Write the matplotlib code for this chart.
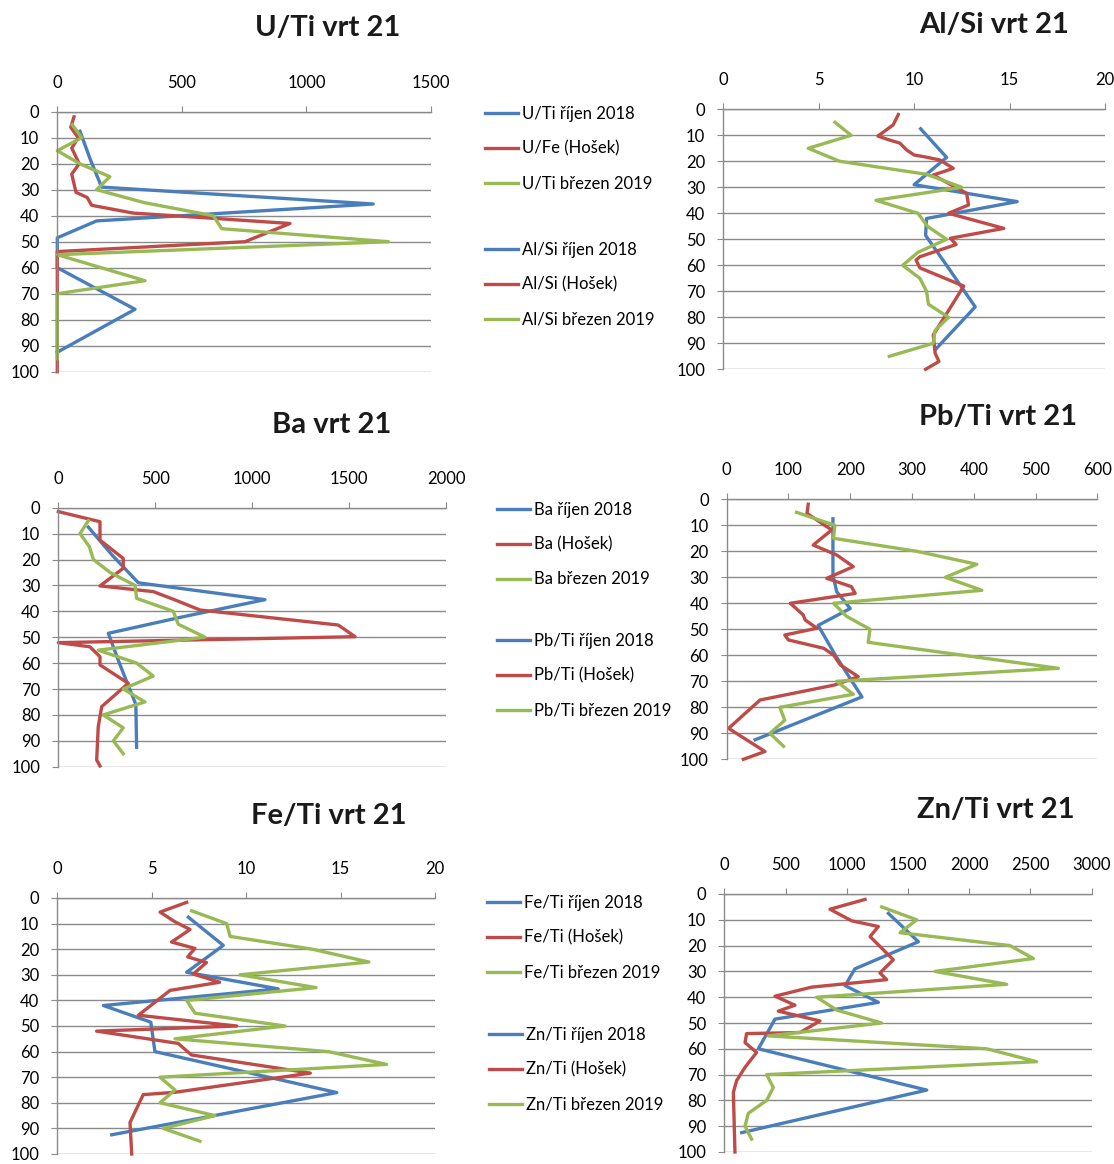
import numpy as np
import matplotlib
matplotlib.use("Agg")
import matplotlib.pyplot as plt

plt.rcParams['font.family'] = ['Lato', 'DejaVu Sans']

# depths (cm) of the three sample series
depth_oct = [7.5, 18.5, 29, 35.5, 42, 48.5, 60, 76, 92.5]
depth_mar = [5, 10, 15, 20, 25, 30, 35, 40, 45, 50, 55, 60, 65, 70, 75, 80, 85, 90, 95]

# U/Ti
u_oct = [91, 133, 178, 1268, 158, 0, 0, 312, 0]
u_hos_depth = [2, 6, 10, 14, 20, 24, 31, 33, 36, 39, 41, 43, 48.7, 50, 53.8, 100]
u_hos = [67, 54, 84, 58, 88, 58, 75, 120, 138, 305, 626, 934, 787, 754, 0, 0]
u_mar = [60, 98, 0, 90, 211, 158, 350, 626, 660, 1329, 0, 176, 352, 0, 0, 0, 0, 0, 0]

# Al/Si
al_oct = [10.34, 11.7, 10.0, 15.4, 10.65, 10.6, 11.7, 13.2, 11.1]
al_hos_depth = [2, 6, 10.3, 11.8, 13, 15.6, 17.6, 18.2, 19.5, 22.7, 25.3, 32.3, 36.8, 40,
                45.8, 49.6, 52, 56.7, 58, 61, 68, 86.8, 93.8, 97, 100]
al_hos = [9.17, 8.9, 8.1, 8.7, 9.25, 9.6, 10.0, 10.5, 11.35, 12.05, 11.0, 12.75, 12.85, 11.8,
          14.7, 11.9, 12.2, 10.3, 10.1, 10.3, 12.6, 11.0, 11.1, 11.3, 10.6]
al_mar = [5.85, 6.7, 4.45, 6.1, 10.65, 12.5, 8.0, 10.2, 10.7, 11.7, 10.2, 9.4, 10.3, 10.65,
          10.75, 11.8, 11.1, 11.0, 8.7]

# Ba
ba_oct = [155, 280, 413, 1066, 650, 258, 315, 400, 404]
ba_hos_depth = [1.5, 5.4, 12.5, 19.6, 23.4, 30.2, 32.4, 35.6, 39.5, 45.3, 49.8, 52.1, 53.7,
                57.5, 60.7, 67.8, 76.8, 84.6, 97.4, 99.7]
ba_hos = [0, 215, 215, 335, 335, 215, 490, 602, 731, 1444, 1531, 0, 163, 215, 215, 361, 224,
          206, 198, 215]
ba_mar = [155, 112, 160, 181, 267, 396, 404, 593, 619, 757, 206, 404, 490, 335, 447, 232, 335,
          284, 335]

# Pb/Ti
pb_oct = [172, 172, 172, 178, 200, 148, 176, 219, 46]
pb_hos_depth = [1.9, 5.4, 11.8, 17.6, 21.4, 25.9, 30.4, 33.6, 36.2, 40, 44.5, 46.4, 49.6, 52.2,
                54.1, 57.3, 59.9, 63.7, 68.2, 71.4, 77.2, 88.1, 97, 100]
pb_hos = [132, 130, 170, 140, 178, 205, 162, 202, 208, 103, 124, 127, 146, 94, 100, 157, 173,
          184, 213, 175, 54, 3, 62, 27]
pb_mar = [113, 175, 173, 308, 405, 354, 413, 173, 194, 232, 229, 383, 537, 178, 205, 86, 94,
          70, 92]

# Fe/Ti
fe_oct = [6.94, 8.79, 6.85, 11.7, 2.44, 4.95, 5.17, 14.8, 2.88]
fe_hos_depth = [1.7, 5.5, 9.3, 12.3, 17.2, 19.7, 23, 25.2, 29.7, 32.9, 36.1, 45.8, 50, 52, 56.8,
                61.3, 68.4, 75.9, 76.8, 87.7, 100]
fe_hos = [6.85, 5.44, 6.23, 7.03, 6.05, 7.29, 6.9, 7.9, 7.2, 8.6, 5.97, 4.29, 9.5, 2.08, 6.4,
          7.1, 13.4, 6.23, 4.55, 3.85, 3.94]
fe_mar = [7.11, 8.97, 9.15, 13.5, 16.5, 9.67, 13.7, 6.85, 7.29, 12.06, 6.23, 14.35, 17.44, 5.44,
          6.23, 5.44, 8.35, 5.61, 7.55]

# Zn/Ti
zn_oct = [1340, 1585, 1067, 986, 1258, 414, 278, 1653, 142]
zn_hos_depth = [2.1, 5.9, 10.4, 12.6, 16.5, 19.7, 25.5, 30.6, 33.2, 34.8, 36.1, 39.6, 43.1,
                45.4, 49.2, 53.7, 54.1, 57.6, 61.4, 67.2, 72.3, 76.9, 100]
zn_hos = [1149, 863, 1040, 1258, 1190, 1258, 1380, 1271, 1326, 986, 713, 414, 577, 441, 781,
          618, 182, 169, 264, 169, 101, 74, 87]
zn_mar = [1285, 1571, 1435, 2333, 2524, 1721, 2306, 754, 918, 1285, 359, 2143, 2551, 346, 400,
          346, 196, 169, 223]

titles = ['U/Ti vrt 21', 'Al/Si vrt 21', 'Ba vrt 21', 'Pb/Ti vrt 21', 'Fe/Ti vrt 21', 'Zn/Ti vrt 21']
labels = [
    ['U/Ti říjen 2018', 'U/Fe (Hošek)', 'U/Ti březen 2019'],
    ['Al/Si říjen 2018', 'Al/Si (Hošek)', 'Al/Si březen 2019'],
    ['Ba říjen 2018', 'Ba (Hošek)', 'Ba březen 2019'],
    ['Pb/Ti říjen 2018', 'Pb/Ti (Hošek)', 'Pb/Ti březen 2019'],
    ['Fe/Ti říjen 2018', 'Fe/Ti (Hošek)', 'Fe/Ti březen 2019'],
    ['Zn/Ti říjen 2018', 'Zn/Ti (Hošek)', 'Zn/Ti březen 2019'],
]
xmax = [1500, 20, 2000, 600, 20, 3000]
xstep = [500, 5, 500, 100, 5, 500]

series = [
    (u_oct, u_hos_depth, u_hos, u_mar),
    (al_oct, al_hos_depth, al_hos, al_mar),
    (ba_oct, ba_hos_depth, ba_hos, ba_mar),
    (pb_oct, pb_hos_depth, pb_hos, pb_mar),
    (fe_oct, fe_hos_depth, fe_hos, fe_mar),
    (zn_oct, zn_hos_depth, zn_hos, zn_mar),
]

W, H = 1114, 1164
# plot area in pixels: left, right, top, bottom
boxes = [(57.3, 431, 111.7, 371.7), (723.3, 1105, 109.3, 369.3),
         (58.3, 446, 507.7, 766.7), (726.7, 1097.3, 499.3, 759.3),
         (57.3, 435, 898, 1154), (724.3, 1091.7, 894, 1152)]
title_pos = [(328, 28), (994, 25), (332, 425), (998, 417), (329, 816), (996, 810)]
# legend: x of line start, y of first row centre
leg_pos = [(485, 112), (485, 248), (497, 508), (497, 639), (487, 901), (489, 1033)]

colors = ['#4a7ebb', '#be4b48', '#98b954']
grid_col = '#8a8a8a'

fig = plt.figure(figsize=(W / 100, H / 100), dpi=100)

for i in range(6):
    l, r, t, b = boxes[i]
    ax = fig.add_axes([l / W, 1 - b / H, (r - l) / W, (b - t) / H])
    oct_v, hos_d, hos_v, mar_v = series[i]
    h1, = ax.plot(oct_v, depth_oct, color=colors[0], lw=2.4, label=labels[i][0], clip_on=False)
    h2, = ax.plot(hos_v, hos_d, color=colors[1], lw=2.4, label=labels[i][1], clip_on=False)
    h3, = ax.plot(mar_v, depth_mar, color=colors[2], lw=2.4, label=labels[i][2], clip_on=False)
    ax.set_xlim(0, xmax[i])
    ax.set_ylim(100, 0)
    ax.set_xticks(np.arange(0, xmax[i] + 1, xstep[i]))
    ax.set_yticks(range(0, 101, 10))
    ax.xaxis.tick_top()
    ax.set_axisbelow(True)
    ax.grid(axis='y', color=grid_col, lw=1)
    for s in ['right', 'bottom']:
        ax.spines[s].set_visible(False)
    for s in ['top', 'left']:
        ax.spines[s].set_color(grid_col)
        ax.spines[s].set_linewidth(1)
    ax.tick_params(axis='x', direction='out', length=4, color=grid_col, pad=11, labelsize=12)
    ax.tick_params(axis='y', direction='out', length=4, color=grid_col, pad=9, labelsize=12)

    tx, ty = title_pos[i]
    fig.text(tx / W, 1 - ty / H, titles[i], ha='center', va='center',
             fontsize=21, fontweight='bold', color='#1a1a1a')

    lx, ly = leg_pos[i]
    fig.legend(handles=[h1, h2, h3], loc='upper left',
               bbox_to_anchor=(lx / W, 1 - (ly - 6) / H), frameon=False,
               fontsize=12, handlelength=2.0, handletextpad=0.2,
               labelspacing=1.12, borderpad=0, borderaxespad=0)

fig.savefig('out.png', dpi=100)
